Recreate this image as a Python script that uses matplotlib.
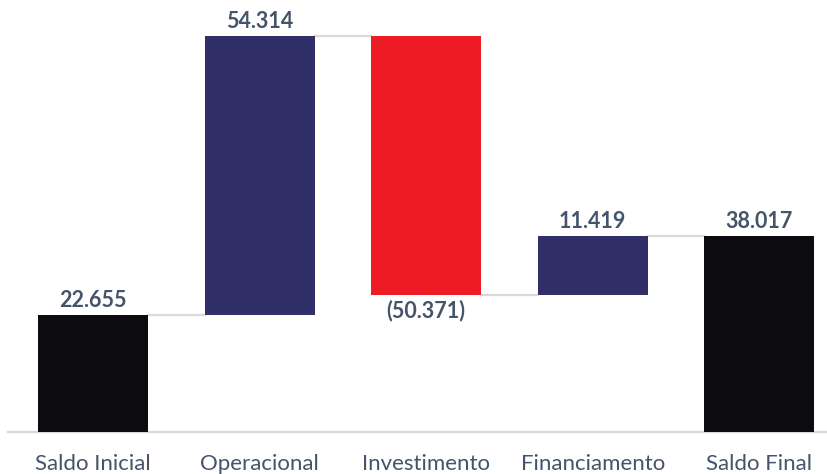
import matplotlib
matplotlib.use("Agg")
import matplotlib.pyplot as plt

categories = ["Saldo Inicial", "Operacional", "Investimento", "Financiamento", "Saldo Final"]
values = [22.655, 54.314, -50.371, 11.419, 38.017]
kinds = ["total", "delta", "delta", "delta", "total"]
labels = ["22.655", "54.314", "(50.371)", "11.419", "38.017"]

colors = {"total": "#0c0b10", "pos": "#302f68", "neg": "#ed1c24"}
text_color = "#44546a"

plt.rcParams['font.family'] = ['Lato', 'DejaVu Sans']

fig = plt.figure(figsize=(8.27, 4.74), dpi=100)
ax = fig.add_axes([8/827, 42/474, 819/827, 432/474])

width = 0.66
running = 0.0
tops = []
for i, (v, k) in enumerate(zip(values, kinds)):
    if k == "total":
        bottom, height = 0, v
        running = v
        c = colors["total"]
    else:
        bottom = running if v >= 0 else running + v
        height = abs(v)
        running = running + v
        c = colors["pos"] if v >= 0 else colors["neg"]
    ax.bar(i, height, bottom=bottom, width=width, color=c, zorder=3)
    tops.append(running)
    if v >= 0:
        ax.annotate(labels[i], (i, bottom + height), xytext=(0, 3), textcoords="offset points",
                    ha="center", va="bottom", fontsize=15.5, fontweight="bold", color=text_color)
    else:
        ax.annotate(labels[i], (i, bottom), xytext=(0, -3), textcoords="offset points",
                    ha="center", va="top", fontsize=15.5, fontweight="bold", color=text_color)

for i in range(len(values) - 1):
    ax.plot([i + width / 2, i + 1 - width / 2], [tops[i], tops[i]], color="#d9d9d9", lw=1.6, zorder=2)

ax.set_xlim(-0.51, 4.406)
ax.set_ylim(0, 84.0)
ax.set_xticks(range(len(categories)))
ax.set_xticklabels(categories, fontsize=16, color=text_color)
ax.tick_params(axis="x", length=0, pad=16)
ax.set_yticks([])
for s in ["top", "right", "left"]:
    ax.spines[s].set_visible(False)
ax.spines["bottom"].set_color("#d9d9d9")
ax.spines["bottom"].set_linewidth(1.6)
ax.patch.set_alpha(0)

fig.savefig("out.png", dpi=100)
